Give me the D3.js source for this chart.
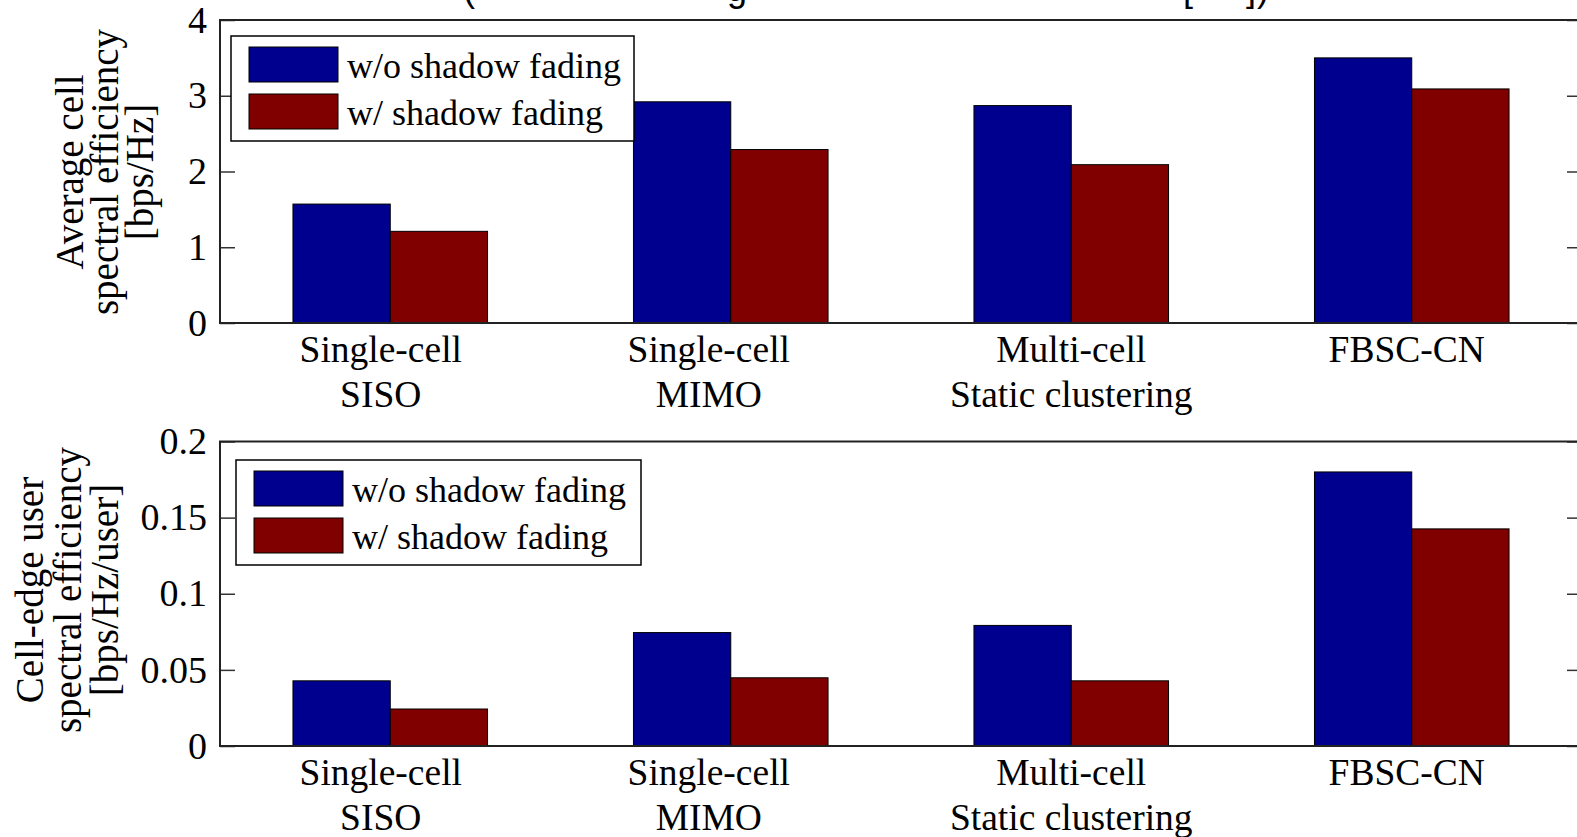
<!DOCTYPE html>
<html>
<head>
<meta charset="utf-8">
<script src="https://cdn.jsdelivr.net/npm/d3@7"></script>
<style>
  body { margin: 0; background: #fff; overflow: hidden; }
  text { font-family: "Liberation Serif", "Times New Roman", serif; fill: #000; }
</style>
</head>
<body>
<div id="chart"></div>
<script>
// data
var categories = ["Single-cell|SISO", "Single-cell|MIMO", "Multi-cell|Static clustering", "FBSC-CN"];
var seriesNames = ["w/o shadow fading", "w/ shadow fading"];
var seriesColors = ["#00008f", "#800000"];

var avgNoShadow = [1.57, 2.92, 2.87, 3.50];
var avgShadow = [1.21, 2.29, 2.09, 3.09];
var avgTicks = [0, 1, 2, 3, 4];

var edgeNoShadow = [0.0428, 0.0745, 0.0792, 0.180];
var edgeShadow = [0.0243, 0.0448, 0.0428, 0.1426];
var edgeTicks = [0, 0.05, 0.1, 0.15, 0.2];

// the tick labels in the original are not quite centred under the groups
var labelNudge = [-9.5, -22, 0, -5];

var W = 1577, H = 837;
var svg = d3.select("#chart").append("svg")
    .attr("width", W)
    .attr("height", H);

// title sits above the picture, only its descenders show
var title = svg.append("text")
    .attr("y", 1)
    .style("font-family", "'Liberation Sans', Arial, sans-serif")
    .style("font-size", "36px");
[["(", 463], ["g", 727], ["[", 1183], ["]", 1246], [")", 1257]].forEach(function (f) {
    title.append("tspan").attr("x", f[1]).text(f[0]);
});

function drawPanel(cfg) {
    var left = 220, right = 1582;

    var x0 = d3.scaleBand().domain(categories).range([left, right]).padding(0);
    var x1 = d3.scaleBand().domain([0, 1]).range([0, x0.bandwidth()])
        .paddingInner(0).paddingOuter(0.75);
    var y = d3.scaleLinear().domain(cfg.domain).range([cfg.bottom, cfg.top]);

    var g = svg.append("g");

    // bars
    var rows = categories.map(function (c, i) {
        return { cat: c, vals: [cfg.series[0][i], cfg.series[1][i]] };
    });
    g.selectAll(".grp")
        .data(rows)
        .enter()
        .append("g")
        .attr("transform", function (d) { return "translate(" + x0(d.cat) + ",0)"; })
        .selectAll("rect")
        .data(function (d) { return d.vals; })
        .enter()
        .append("rect")
        .attr("x", function (d, i) { return x1(i); })
        .attr("y", function (d) { return y(d); })
        .attr("width", x1.bandwidth())
        .attr("height", function (d) { return y(0) - y(d); })
        .style("fill", function (d, i) { return seriesColors[i]; })
        .style("stroke", "#000")
        .style("stroke-width", 1);

    // y axis left, ticks pointing in
    var ay = g.append("g")
        .attr("transform", "translate(" + left + ",0)")
        .call(d3.axisLeft(y).tickValues(cfg.ticks).tickSize(-15).tickPadding(13)
            .tickFormat(function (d) { return String(d); }));
    ay.select(".domain").remove();
    ay.selectAll("text").style("font-size", "38px").style("font-family", "'Liberation Serif', serif");
    ay.selectAll("line").style("stroke", "#333").style("stroke-width", 1.5);

    // right ticks
    var ar = g.append("g")
        .attr("transform", "translate(" + right + ",0)")
        .call(d3.axisRight(y).tickValues(cfg.ticks).tickSize(-15).tickFormat(""));
    ar.select(".domain").remove();
    ar.selectAll("line").style("stroke", "#333").style("stroke-width", 1.5);

    // box
    g.append("rect")
        .attr("x", left)
        .attr("y", cfg.top)
        .attr("width", right - left)
        .attr("height", cfg.bottom - cfg.top)
        .style("fill", "none")
        .style("stroke", "#222")
        .style("stroke-width", 2);

    // category labels (two lines)
    var ax = g.append("g")
        .attr("transform", "translate(0," + cfg.bottom + ")")
        .call(d3.axisBottom(x0).tickSize(0).tickFormat(""));
    ax.select(".domain").remove();
    ax.selectAll(".tick").each(function (d, k) {
        var t = d3.select(this).append("text")
            .attr("text-anchor", "middle")
            .style("font-size", "37.5px")
            .style("font-family", "'Liberation Serif', serif")
            .style("fill", "#000");
        d.split("|").forEach(function (line, i) {
            t.append("tspan").attr("x", labelNudge[k]).attr("y", 39 + i * 45).text(line);
        });
    });

    // y label
    var yl = g.append("text")
        .attr("transform", "translate(" + cfg.labelX + "," + cfg.labelY + ") rotate(-90)")
        .attr("text-anchor", "middle")
        .style("font-size", "39px");
    cfg.label.forEach(function (line, i) {
        yl.append("tspan").attr("x", 0).attr("y", i * cfg.labelGap).text(line);
    });

    // legend
    var lg = cfg.legend;
    g.append("rect")
        .attr("x", lg.x)
        .attr("y", lg.y)
        .attr("width", lg.w)
        .attr("height", lg.h)
        .style("fill", "#fff")
        .style("stroke", "#000")
        .style("stroke-width", 1.5);
    seriesNames.forEach(function (name, i) {
        g.append("rect")
            .attr("x", lg.x + 18)
            .attr("y", lg.y + 11 + i * 47)
            .attr("width", 89)
            .attr("height", 35)
            .style("fill", seriesColors[i])
            .style("stroke", "#000")
            .style("stroke-width", 1);
        g.append("text")
            .attr("x", lg.x + 116)
            .attr("y", lg.y + 42 + i * 47)
            .style("font-size", "36px")
            .text(name);
    });
}

drawPanel({
    series: [avgNoShadow, avgShadow],
    domain: [0, 4],
    ticks: avgTicks,
    top: 20,
    bottom: 323,
    label: ["Average cell", "spectral efficiency", "[bps/Hz]"],
    labelX: 83,
    labelY: 172,
    labelGap: 35,
    legend: { x: 231, y: 36, w: 403, h: 105 }
});

drawPanel({
    series: [edgeNoShadow, edgeShadow],
    domain: [0, 0.2],
    ticks: edgeTicks,
    top: 441.5,
    bottom: 746,
    label: ["Cell-edge user", "spectral efficiency", "[bps/Hz/user]"],
    labelX: 43,
    labelY: 590,
    labelGap: 37.5,
    legend: { x: 236, y: 460, w: 405, h: 105 }
});
</script>
</body>
</html>
